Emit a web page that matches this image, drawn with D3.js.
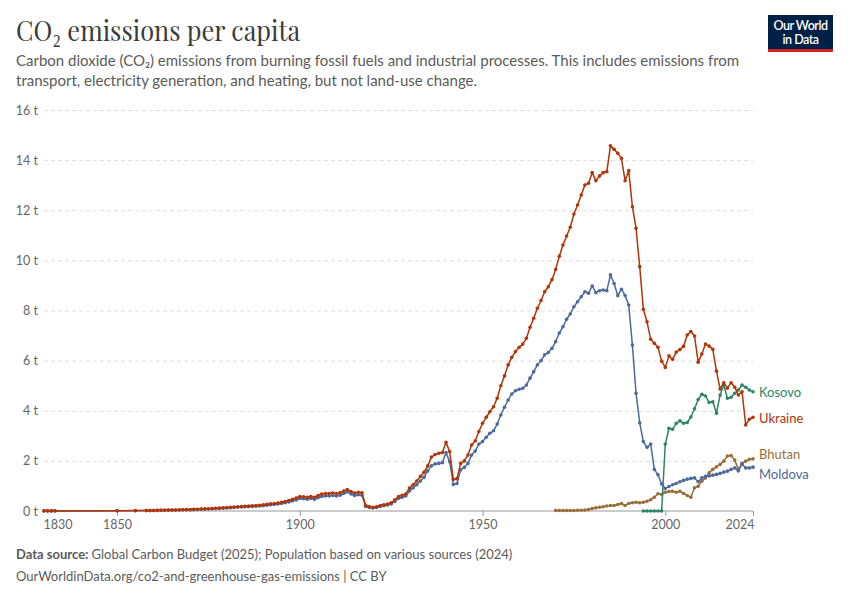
<!DOCTYPE html>
<html>
<head>
<meta charset="utf-8">
<script src="https://cdn.jsdelivr.net/npm/d3@7"></script>
<style>
  html, body { margin: 0; padding: 0; background: #fff; }
  svg { display: block; font-family: Lato, "Noto Sans", sans-serif; }
</style>
</head>
<body>
<svg id="chart" width="850" height="600"></svg>
<script>
// ---------------- DATA ----------------
const yTickValues = [0, 2, 4, 6, 8, 10, 12, 14, 16];
const yTickLabels = ["0 t", "2 t", "4 t", "6 t", "8 t", "10 t", "12 t", "14 t", "16 t"];
const xTickValues = [1830, 1850, 1900, 1950, 2000, 2024];
const xTickLabels = ["1830", "1850", "1900", "1950", "2000", "2024"];

// Ukraine & Moldova: a few early years, then annual from 1858
const earlyYears = [1830, 1831, 1832, 1833, 1850, 1855];
const annualStart = 1858;

const ukraineEarly = [0.005, 0.005, 0.005, 0.005, 0.01, 0.015];
const ukraineAnnual = [
  0.02, 0.02,                                                   // 1858-1859
  0.02, 0.025, 0.03, 0.03, 0.035, 0.04, 0.04, 0.045, 0.05, 0.055, // 1860s
  0.06, 0.065, 0.07, 0.08, 0.085, 0.09, 0.1, 0.11, 0.12, 0.13,   // 1870s
  0.14, 0.15, 0.16, 0.17, 0.18, 0.19, 0.2, 0.21, 0.22, 0.23,     // 1880s
  0.25, 0.27, 0.29, 0.3, 0.32, 0.35, 0.38, 0.42, 0.47, 0.52,     // 1890s
  0.58, 0.57, 0.55, 0.58, 0.55, 0.62, 0.68, 0.7, 0.7, 0.72,      // 1900s
  0.7, 0.73, 0.8, 0.86, 0.78, 0.72, 0.75, 0.73, 0.23, 0.18,      // 1910s
  0.15, 0.17, 0.22, 0.25, 0.28, 0.33, 0.45, 0.58, 0.63, 0.68,    // 1920s
  0.92, 1.05, 1.2, 1.38, 1.55, 1.8, 2.15, 2.25, 2.3, 2.33,       // 1930s
  2.74, 2.37, 1.26, 1.29, 1.9, 2.0, 2.23, 2.63, 2.8, 3.17,       // 1940s
  3.5, 3.74, 3.96, 4.16, 4.5, 5.0, 5.39, 5.83, 6.13, 6.36,       // 1950s
  6.53, 6.66, 6.89, 7.33, 7.69, 8.09, 8.4, 8.75, 8.95, 9.23,     // 1960s
  9.64, 10.16, 10.61, 10.97, 11.32, 11.85, 12.21, 12.61, 13.01, 13.08, // 1970s
  13.5, 13.18, 13.37, 13.5, 13.54, 14.57, 14.43, 14.27, 14.07, 13.18, // 1980s
  13.58, 12.14, 11.28, 9.75, 8.05, 7.55, 6.85, 6.69, 6.53, 5.98, // 1990s
  5.73, 6.19, 6.05, 6.34, 6.44, 6.57, 7.02, 7.16, 6.98, 5.94,    // 2000s
  6.26, 6.66, 6.58, 6.45, 5.58, 4.87, 5.12, 4.9, 5.12, 4.94,     // 2010s
  4.63, 4.76, 3.43, 3.66, 3.74                                   // 2020-2024
];

const moldovaEarly = [0.004, 0.004, 0.004, 0.004, 0.008, 0.012];
const moldovaAnnual = [
  0.015, 0.015,                                                  // 1858-1859
  0.02, 0.02, 0.025, 0.025, 0.03, 0.035, 0.035, 0.04, 0.045, 0.05, // 1860s
  0.05, 0.055, 0.06, 0.07, 0.075, 0.08, 0.085, 0.095, 0.1, 0.11, // 1870s
  0.12, 0.13, 0.14, 0.15, 0.16, 0.165, 0.17, 0.18, 0.19, 0.2,    // 1880s
  0.21, 0.23, 0.25, 0.26, 0.28, 0.3, 0.33, 0.36, 0.4, 0.44,      // 1890s
  0.5, 0.49, 0.47, 0.5, 0.47, 0.53, 0.58, 0.6, 0.6, 0.62,        // 1900s
  0.6, 0.63, 0.7, 0.76, 0.68, 0.62, 0.65, 0.63, 0.18, 0.14,      // 1910s
  0.12, 0.14, 0.18, 0.21, 0.24, 0.28, 0.38, 0.5, 0.55, 0.6,      // 1920s
  0.8, 0.92, 1.05, 1.2, 1.35, 1.6, 1.8, 1.88, 1.9, 1.93,         // 1930s
  2.33, 1.97, 1.06, 1.1, 1.64, 1.74, 1.9, 2.23, 2.39, 2.67,      // 1940s
  2.77, 2.94, 3.1, 3.2, 3.47, 3.83, 4.14, 4.43, 4.67, 4.8,       // 1950s
  4.86, 4.9, 5.03, 5.3, 5.56, 5.83, 6.0, 6.23, 6.32, 6.49,       // 1960s
  6.76, 7.1, 7.35, 7.65, 7.86, 8.15, 8.35, 8.55, 8.75, 8.69,     // 1970s
  8.98, 8.71, 8.79, 8.82, 8.79, 9.42, 9.08, 8.59, 8.85, 8.6,     // 1980s
  8.22, 6.62, 4.7, 3.52, 2.77, 2.54, 2.67, 1.66, 1.45, 1.08,     // 1990s
  0.9, 0.98, 1.05, 1.1, 1.17, 1.22, 1.27, 1.3, 1.32, 1.17,       // 2000s
  1.32, 1.38, 1.4, 1.43, 1.46, 1.5, 1.55, 1.59, 1.66, 1.72,      // 2010s
  1.6, 1.88, 1.72, 1.72, 1.75                                    // 2020-2024
];

const kosovoStart = 1994;
const kosovoValues = [
  0, 0, 0, 0, 0, 0,                                              // 1994-1999
  2.67, 3.3, 3.26, 3.5, 3.6, 3.5, 3.53, 3.75, 4.08, 4.45,        // 2000s
  4.66, 4.59, 4.33, 4.36, 3.9, 4.63, 5.03, 4.5, 4.54, 4.7,       // 2010s
  4.83, 5.03, 4.94, 4.83, 4.76                                   // 2020-2024
];

const bhutanStart = 1970;
const bhutanValues = [
  0.02, 0.02, 0.02, 0.02, 0.02, 0.02, 0.03, 0.03, 0.04, 0.06,    // 1970s
  0.1, 0.13, 0.15, 0.17, 0.2, 0.22, 0.22, 0.26, 0.3, 0.22,       // 1980s
  0.3, 0.33, 0.35, 0.33, 0.35, 0.39, 0.45, 0.55, 0.69, 0.66,     // 1990s
  0.75, 0.78, 0.79, 0.75, 0.79, 0.7, 0.62, 0.55, 0.93, 0.99,     // 2000s
  1.19, 1.32, 1.52, 1.66, 1.76, 1.86, 1.99, 2.19, 2.21, 2.03,    // 2010s
  1.66, 1.9, 1.99, 2.06, 2.08                                    // 2020-2024
];

const seriesNames = ["Ukraine", "Moldova", "Kosovo", "Bhutan"];
const seriesColors = ["#b13507", "#4c6a9c", "#2c8465", "#9a6d38"];

// ---------------- BUILD ----------------
function annualYears(start, n) { return Array.from({length: n}, (_, i) => start + i); }
function zipSeries(years, values) { return years.map((y, i) => ({year: y, value: values[i]})); }

const series = [
  { name: seriesNames[0], color: seriesColors[0],
    data: zipSeries(earlyYears.concat(annualYears(annualStart, ukraineAnnual.length)), ukraineEarly.concat(ukraineAnnual)) },
  { name: seriesNames[1], color: seriesColors[1],
    data: zipSeries(earlyYears.concat(annualYears(annualStart, moldovaAnnual.length)), moldovaEarly.concat(moldovaAnnual)) },
  { name: seriesNames[2], color: seriesColors[2],
    data: zipSeries(annualYears(kosovoStart, kosovoValues.length), kosovoValues) },
  { name: seriesNames[3], color: seriesColors[3],
    data: zipSeries(annualYears(bhutanStart, bhutanValues.length), bhutanValues) }
];

const svg = d3.select("#chart");
const plot = {left: 44, right: 753, top: 110, bottom: 511};

const x = d3.scaleLinear().domain([1830, 2024]).range([plot.left, plot.right]);
const y = d3.scaleLinear().domain([0, 16]).range([plot.bottom, plot.top]);

// Title
svg.append("text")
  .attr("x", 16).attr("y", 41)
  .style("font-family", "'Playfair Display', 'Liberation Serif', 'DejaVu Serif', serif")
  .style("font-size", "29px")
  .attr("fill", "#3b3b3b")
  .attr("textLength", 284).attr("lengthAdjust", "spacingAndGlyphs")
  .text("CO₂ emissions per capita");

// Subtitle
const subLines = [
  "Carbon dioxide (CO₂) emissions from burning fossil fuels and industrial processes. This includes emissions from",
  "transport, electricity generation, and heating, but not land-use change."
];
svg.selectAll("text.sub").data(subLines).join("text")
  .attr("class", "sub")
  .attr("x", 16).attr("y", (d, i) => 66 + i * 19.5)
  .style("font-size", "15px")
  .attr("fill", "#5b5b5b")
  .text(d => d);

// Logo
const logo = svg.append("g");
logo.append("rect").attr("x", 768).attr("y", 15).attr("width", 65).attr("height", 37).attr("fill", "#002147");
logo.append("rect").attr("x", 768).attr("y", 49).attr("width", 65).attr("height", 3).attr("fill", "#ce261e");
logo.append("text").attr("x", 800.5).attr("y", 30).attr("text-anchor", "middle")
  .style("font-size", "12.5px").style("font-weight", "600").attr("fill", "#fff").attr("letter-spacing", -0.5).text("Our World");
logo.append("text").attr("x", 800.5).attr("y", 44).attr("text-anchor", "middle")
  .style("font-size", "12.5px").style("font-weight", "600").attr("fill", "#fff").attr("letter-spacing", -0.5).text("in Data");

// Grid lines + y labels
const yAxis = d3.axisLeft(y).tickValues(yTickValues)
  .tickFormat((d, i) => yTickLabels[i])
  .tickSize(-(plot.right - plot.left)).tickPadding(6);
const gy = svg.append("g").attr("transform", `translate(${plot.left},0)`).call(yAxis);
gy.select(".domain").remove();
gy.selectAll(".tick line")
  .attr("stroke", d => d === 0 ? "none" : "#dddddd")
  .attr("stroke-dasharray", "4,3");
gy.selectAll(".tick text").style("font-size", "12.5px").attr("fill", "#666").style("font-family", "Lato, sans-serif");

// X axis
const xAxis = d3.axisBottom(x).tickValues(xTickValues)
  .tickFormat((d, i) => xTickLabels[i]).tickSize(5).tickPadding(4);
const gx = svg.append("g").attr("transform", `translate(0,${plot.bottom})`).call(xAxis);
gx.select(".domain").attr("stroke", "#999").attr("d", `M${plot.left},0H${plot.right}`);
gx.selectAll(".tick line").attr("stroke", "#999");
gx.selectAll(".tick text").style("font-size", "12.5px").attr("fill", "#666").style("font-family", "Lato, sans-serif")
  .attr("text-anchor", d => d === 1830 ? "start" : (d === 2024 ? "end" : "middle"))
  .attr("dx", d => d === 1830 ? -1 : (d === 2024 ? 1 : 0));
gx.selectAll(".tick").filter(d => d === 1830).select("line").attr("stroke", "none");

// Lines
const line = d3.line().x(d => x(d.year)).y(d => y(d.value));
const drawOrder = ["Bhutan", "Kosovo", "Moldova", "Ukraine"];
drawOrder.forEach(name => {
  const s = series.find(t => t.name === name);
  const g = svg.append("g");
  g.append("path").datum(s.data)
    .attr("fill", "none").attr("stroke", s.color).attr("stroke-width", 1.5)
    .attr("stroke-linejoin", "round").attr("d", line);
  g.selectAll("circle").data(s.data).join("circle")
    .attr("cx", d => x(d.year)).attr("cy", d => y(d.value)).attr("r", 1.8)
    .attr("fill", s.color);
});

// End labels
const labelY = {Kosovo: 392, Ukraine: 418, Bhutan: 454, Moldova: 474};
series.forEach(s => {
  svg.append("text")
    .attr("x", 759).attr("y", labelY[s.name]).attr("dy", "0.35em")
    .style("font-size", "13px").attr("fill", s.color).text(s.name);
});

// Footer
const f1 = svg.append("text").attr("x", 16).attr("y", 559).style("font-size", "13px").attr("fill", "#5b5b5b");
f1.append("tspan").style("font-weight", "bold").text("Data source: ");
f1.append("tspan").text("Global Carbon Budget (2025); Population based on various sources (2024)");
svg.append("text").attr("x", 16).attr("y", 581).style("font-size", "13px").attr("fill", "#5b5b5b")
  .text("OurWorldinData.org/co2-and-greenhouse-gas-emissions | CC BY");
</script>
</body>
</html>
